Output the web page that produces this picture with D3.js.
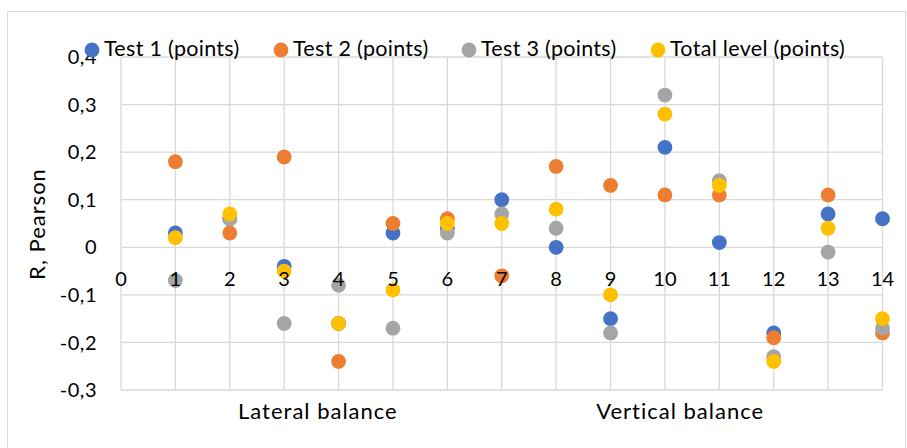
<!DOCTYPE html>
<html><head><meta charset="utf-8">
<script src="https://cdn.jsdelivr.net/npm/d3@7"></script>
<style>body{margin:0;background:#fff}svg{display:block;font-family:Lato,"Open Sans",sans-serif}</style>
</head><body><svg id="c" width="907" height="448"></svg>
<script>
const xs = [1,2,3,4,5,6,7,8,9,10,11,12,13,14];
const test1 = [0.03,0.06,-0.04,-0.16,0.03,0.04,0.10,0.00,-0.15,0.21,0.01,-0.18,0.07,0.06];
const test2 = [0.18,0.03,0.19,-0.24,0.05,0.06,-0.06,0.17,0.13,0.11,0.11,-0.19,0.11,-0.18];
const test3 = [-0.07,0.06,-0.16,-0.08,-0.17,0.03,0.07,0.04,-0.18,0.32,0.14,-0.23,-0.01,-0.17];
const total = [0.02,0.07,-0.05,-0.16,-0.09,0.05,0.05,0.08,-0.10,0.28,0.13,-0.24,0.04,-0.15];
const seriesNames = ["Test 1 (points)","Test 2 (points)","Test 3 (points)","Total level (points)"];
const colors = ["#4472C4","#ED7D31","#A5A5A5","#FFC000"];
const xTicks = d3.range(0,15);
const yTicks = [-0.3,-0.2,-0.1,0,0.1,0.2,0.3,0.4];
const groupLabels = ["Lateral balance","Vertical balance"];
const groupPos = [3.62,10.28];

const svg = d3.select("#c");
const x = d3.scaleLinear().domain([0,14]).range([121,882.5]);
const y = d3.scaleLinear().domain([-0.3,0.4]).range([390,57]);
const fmt = v => Math.abs(v) < 1e-9 ? "0" : d3.format(".1f")(v).replace(".",",").replace("−","-");

svg.append("rect").attr("x",7.5).attr("y",11.5).attr("width",898).attr("height",450)
  .attr("fill","#fff").attr("stroke","#d9d9d9").attr("stroke-width",1);

const g = svg.append("g");
g.selectAll(".vg").data(xTicks).join("line")
  .attr("x1",d=>x(d)).attr("x2",d=>x(d)).attr("y1",y(0.4)).attr("y2",y(-0.3))
  .attr("stroke","#d9d9d9").attr("stroke-width",1.3);
g.selectAll(".hg").data(yTicks).join("line")
  .attr("x1",x(0)).attr("x2",x(14)).attr("y1",d=>y(d)).attr("y2",d=>y(d))
  .attr("stroke","#d9d9d9").attr("stroke-width",1.3);

// y tick labels
svg.selectAll(".yl").data(yTicks).join("text")
  .attr("x",97).attr("y",d=>y(d)).attr("dy","0.36em").attr("text-anchor","end")
  .attr("font-size",20).attr("letter-spacing",0.5).attr("fill","#000").text(d=>fmt(d));

const all = [test1,test2,test3,total];
all.forEach((arr,i)=>{
  svg.append("g").selectAll("circle").data(arr).join("circle")
    .attr("cx",(d,j)=>x(xs[j])).attr("cy",d=>y(d)).attr("r",7.4).attr("fill",colors[i]);
});

// x tick labels on top
svg.selectAll(".xl").data(xTicks).join("text")
  .attr("x",d=>x(d)).attr("y",279).attr("dy","0.36em").attr("text-anchor","middle")
  .attr("font-size",20).attr("fill","#000").text(d=>d);

svg.selectAll(".gl").data(groupLabels).join("text")
  .attr("x",(d,i)=>x(groupPos[i])).attr("y",411).attr("dy","0.36em").attr("text-anchor","middle")
  .attr("font-size",22).attr("letter-spacing",1).attr("fill","#000").text(d=>d);

svg.append("text").attr("transform","translate(37,224) rotate(-90)")
  .attr("text-anchor","middle").attr("dy","0.36em").attr("font-size",22).attr("letter-spacing",1)
  .attr("fill","#000").text("R, Pearson");

// legend
const legX = [92,281,469,658];
const lg = svg.append("g");
seriesNames.forEach((n,i)=>{
  lg.append("circle").attr("cx",legX[i]).attr("cy",50).attr("r",7.4).attr("fill",colors[i]);
  lg.append("text").attr("x",legX[i]+12).attr("y",48).attr("dy","0.36em")
    .attr("font-size",21.5).attr("letter-spacing",0.3).attr("fill","#000").text(n);
});
</script></body></html>
